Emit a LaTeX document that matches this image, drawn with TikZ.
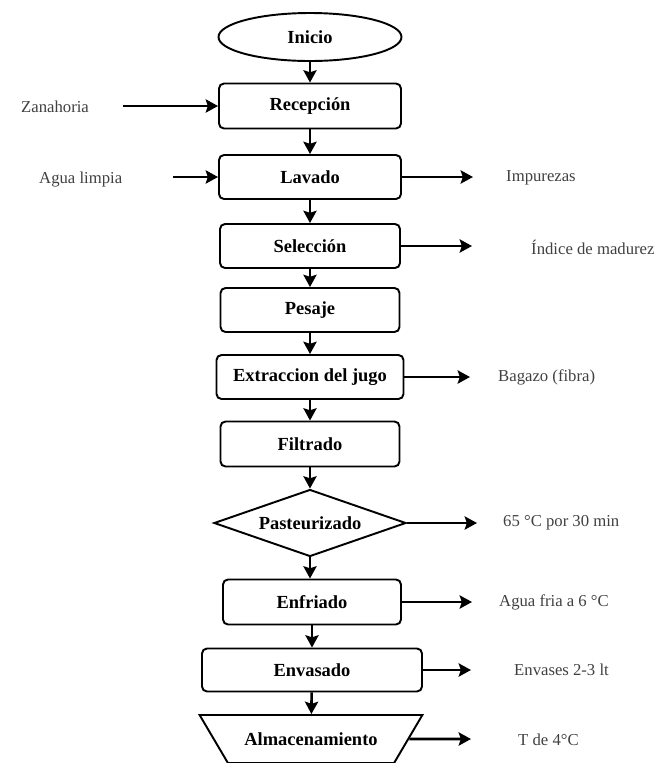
\documentclass[tikz,border=0pt]{standalone}
\usepackage{fontspec}
\setmainfont{Liberation Serif}
\usepackage{tikz}
\usetikzlibrary{shapes.geometric, arrows.meta, positioning}

\begin{document}
\begin{tikzpicture}[
    process/.style={rectangle, rounded corners=0.1cm, minimum width=3.6cm, minimum height=0.88cm, text centered, draw=black, line width=1.1pt, font=\fontsize{10.5}{12}\selectfont\bfseries},
    startstop/.style={ellipse, minimum width=3.66cm, minimum height=0.96cm, draw=black, line width=1.1pt, font=\fontsize{10.5}{12}\selectfont\bfseries},
    decision/.style={diamond, aspect=2.9, inner sep=0pt, minimum width=3.84cm, minimum height=1.34cm, draw=black, line width=1.1pt, font=\fontsize{10.5}{12}\selectfont\bfseries},
    storage/.style={trapezium, trapezium left angle=45, trapezium right angle=45, shape border rotate=180, trapezium stretches=true, minimum width=4.46cm, minimum height=0.96cm, draw=black, line width=1.1pt, font=\fontsize{10.5}{12}\selectfont\bfseries},
    side/.style={anchor=west, text=black!75, font=\fontsize{9.5}{11}\selectfont},
    arrow/.style={line width=1.5pt, -{Stealth[length=7pt, width=7.5pt, inset=1.2pt]}},
]
    \useasboundingbox (0,0) rectangle (13.12,-15.26);

    % Main line
    \node (inicio) [startstop] at (6.2,-0.74) {Inicio};
    \node (recep) [process, minimum width=3.64cm, minimum height=0.9cm] at (6.2,-2.12) {Recepción};
    \node (lavado) [process, minimum width=3.64cm] at (6.2,-3.54) {Lavado};
    \node (selec) [process] at (6.2,-4.92) {Selección};
    \node (pesaje) [process, minimum width=3.58cm] at (6.2,-6.2) {Pesaje};
    \node (extrac) [process, minimum width=3.74cm] at (6.2,-7.54) {Extraccion del jugo};
    \node (filtr) [process, minimum width=3.58cm, minimum height=0.9cm] at (6.2,-8.88) {Filtrado};
    \node (pasteur) [decision] at (6.2,-10.46) {Pasteurizado};
    \node (enfr) [process, minimum width=3.56cm, minimum height=0.9cm] at (6.24,-12.04) {Enfriado};
    \node (envas) [process, minimum width=4.4cm, minimum height=0.86cm] at (6.24,-13.4) {Envasado};
    \node (almac) [storage] at (6.22,-14.78) {Almacenamiento};

    % Inputs
    \node (zanah) [side] at (0.3,-2.14) {Zanahoria};
    \node (agua) [side] at (0.66,-3.6) {Agua limpia};
    \coordinate (zanah_in) at (2.46,-2.12);
    \coordinate (agua_in) at (3.46,-3.54);

    % Outputs
    \node (impur) [side] at (10.0,-3.56) {Impurezas};
    \node (indice) [side] at (10.5,-4.94) {Índice de madurez};
    \node (bagazo) [side] at (9.84,-7.54) {Bagazo (fibra)};
    \node (temp) [side] at (9.94,-10.46) {65 °C por 30 min};
    \node (aguafria) [side] at (9.86,-12.04) {Agua fria a 6 °C};
    \node (envases) [side] at (10.16,-13.4) {Envases 2-3 lt};
    \node (tfinal) [side] at (10.24,-14.8) {T de 4°C};
    \coordinate (impur_out) at (9.46,-3.54);
    \coordinate (indice_out) at (9.44,-4.92);
    \coordinate (bagazo_out) at (9.4,-7.54);
    \coordinate (temp_out) at (9.54,-10.46);
    \coordinate (aguafria_out) at (9.44,-12.04);
    \coordinate (envases_out) at (9.42,-13.4);
    \coordinate (tfinal_out) at (9.42,-14.78);

    % Flow
    \draw [arrow] (inicio) -- (recep);
    \draw [arrow] (recep) -- (lavado);
    \draw [arrow] (lavado) -- (selec);
    \draw [arrow] (selec) -- (pesaje);
    \draw [arrow] (pesaje) -- (extrac);
    \draw [arrow] (extrac) -- (filtr);
    \draw [arrow] (filtr) -- (pasteur);
    \draw [arrow] (pasteur.south) -- (pasteur.south |- enfr.north);
    \draw [arrow] (enfr.south) -- (enfr.south |- envas.north);
    \draw [arrow] (envas) -- (almac);

    \draw [arrow] (zanah_in) -- (recep.west);
    \draw [arrow] (agua_in) -- (lavado.west);

    \draw [arrow] (lavado.east) -- (impur_out);
    \draw [arrow] (selec.east) -- (indice_out);
    \draw [arrow] (extrac.east) -- (bagazo_out);
    \draw [arrow] (pasteur.east) -- (temp_out);
    \draw [arrow] (enfr.east) -- (aguafria_out);
    \draw [arrow] (envas.east) -- (envases_out);
    \draw [arrow] (almac.east) -- (tfinal_out);

\end{tikzpicture}
\end{document}
